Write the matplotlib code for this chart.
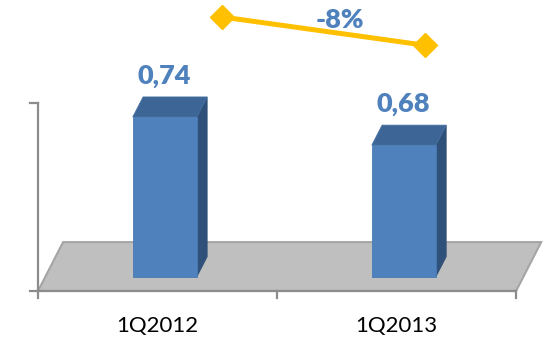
import numpy as np
import matplotlib
matplotlib.use('Agg')
from matplotlib import pyplot as plt
from matplotlib.patches import Polygon

# quarterly values
categories = ['1Q2012', '1Q2013']
values = np.array([0.74, 0.68])
value_labels = ['0,74', '0,68']

# value axis range
AXIS_MIN = 0.4
AXIS_MAX = 0.8

# oblique depth offset (full floor depth), in data units
DEPTH_DX = 0.105
DEPTH_DY = 0.104
BAR_D0, BAR_D1 = 0.29, 0.70
BAR_W = 0.268

FRONT = '#4F81BD'
TOP = '#3D6696'
SIDE = '#2F5079'
FLOOR = '#BFBFBF'
AXIS_COL = '#8C8C8C'
LINE_COL = '#FFC000'

plt.rcParams['font.family'] = ['Lato', 'DejaVu Sans']


def proj(x, v, d):
    return (x + d * DEPTH_DX, v + d * DEPTH_DY)


def main():
    fig = plt.figure(figsize=(5.51, 3.44), dpi=100)
    ax = fig.add_axes([0, 0, 1, 1])
    ax.set_xlim(-0.659, 1.646)
    ax.set_ylim(0.2872, 1.0191)
    ax.axis('off')

    xs = np.arange(len(categories))
    x_lo, x_hi = xs[0] - 0.5, xs[-1] + 0.5

    # floor
    floor = [proj(x_lo, AXIS_MIN, 0), proj(x_hi, AXIS_MIN, 0),
             proj(x_hi, AXIS_MIN, 1), proj(x_lo, AXIS_MIN, 1)]
    ax.add_patch(Polygon(floor, closed=True, fc=FLOOR, ec='#A5A5A5', lw=1.5, zorder=1))

    # axis lines and ticks
    tick_x = 8 / 239
    tick_y = 7 / 470
    ax.plot([x_lo, x_lo], [AXIS_MIN, AXIS_MAX], color=AXIS_COL, lw=1.6, zorder=2)
    for t in (AXIS_MIN, AXIS_MAX):
        ax.plot([x_lo - tick_x, x_lo], [t, t], color=AXIS_COL, lw=1.6, zorder=2)
    ax.plot([x_lo, x_hi], [AXIS_MIN, AXIS_MIN], color=AXIS_COL, lw=1.6, zorder=2)
    for t in np.arange(x_lo, x_hi + 0.01, 1.0):
        ax.plot([t, t], [AXIS_MIN - tick_y, AXIS_MIN], color=AXIS_COL, lw=1.6, zorder=2)

    # bars: front face through ax.bar, top and side as polygons
    base = AXIS_MIN + BAR_D0 * DEPTH_DY
    fx = xs + BAR_D0 * DEPTH_DX
    ax.bar(fx, values + BAR_D0 * DEPTH_DY - base, bottom=base, width=BAR_W,
           color=FRONT, edgecolor='#4A7AB3', lw=0.6, zorder=4)
    for x, v in zip(xs, values):
        xl, xr = x - BAR_W / 2, x + BAR_W / 2
        top = [proj(xl, v, BAR_D0), proj(xr, v, BAR_D0),
               proj(xr, v, BAR_D1), proj(xl, v, BAR_D1)]
        side = [proj(xr, AXIS_MIN, BAR_D0), proj(xr, v, BAR_D0),
                proj(xr, v, BAR_D1), proj(xr, AXIS_MIN, BAR_D1)]
        ax.add_patch(Polygon(side, closed=True, fc=SIDE, ec=SIDE, lw=0.6, zorder=3))
        ax.add_patch(Polygon(top, closed=True, fc=TOP, ec='#4670A3', lw=0.6, zorder=3))

    # value labels
    for x, v, lab in zip(fx, values, value_labels):
        ax.annotate(lab, xy=(x, v + BAR_D1 * DEPTH_DY), xytext=(-1, 21),
                    textcoords='offset pixels', ha='center', va='center',
                    fontsize=19.5, fontweight='heavy', color=FRONT, zorder=6)

    # category labels
    for x, c in zip(xs, categories):
        ax.annotate(c, xy=(x, AXIS_MIN), xytext=(0, -35),
                    textcoords='offset pixels', ha='center', va='center',
                    fontsize=16, color='black')

    # change line above the bars
    line_x = [0.27, 1.117]
    line_y = values + 0.243
    ax.plot(line_x, line_y, color=LINE_COL, lw=3.6, marker='D', ms=12,
            mfc=LINE_COL, mec=LINE_COL, zorder=5, solid_capstyle='butt')
    change = (values[1] - values[0]) / values[0] * 100
    ax.annotate('%d%%' % round(change), xy=(np.mean(line_x), np.mean(line_y)),
                xytext=(17, 11), textcoords='offset pixels', ha='center', va='center',
                fontsize=19.5, fontweight='heavy', color=FRONT, zorder=6)

    fig.savefig('out.png', dpi=100)


if __name__ == '__main__':
    main()
